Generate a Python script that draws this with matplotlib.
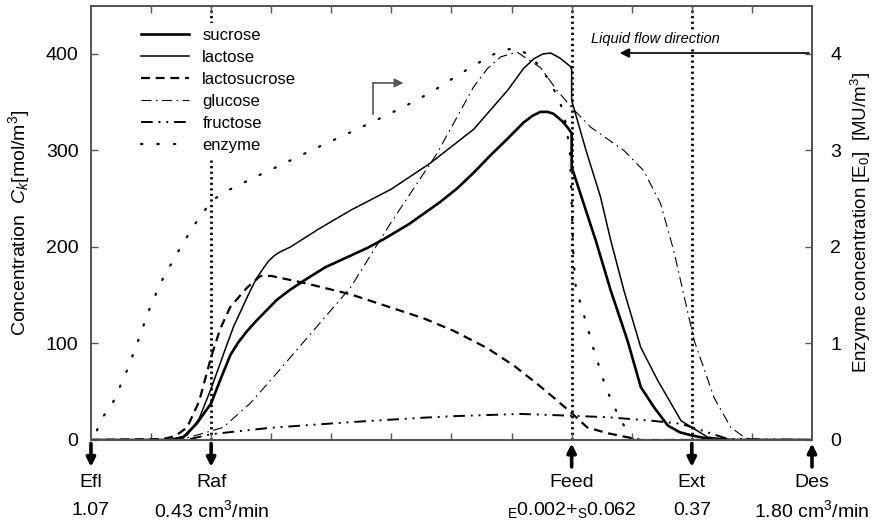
import matplotlib
matplotlib.use("Agg")
import matplotlib.pyplot as plt
from matplotlib.transforms import blended_transform_factory

plt.rcParams['font.family'] = ['Liberation Sans', 'DejaVu Sans']
plt.rcParams['mathtext.fontset'] = 'custom'
plt.rcParams['mathtext.rm'] = 'Liberation Sans'
plt.rcParams['mathtext.it'] = 'Liberation Sans:italic'

# column position (0 = Efl port ... 12 = Des port)
sucrose_x = [0, 1.3, 1.54, 1.76, 2.0, 2.15, 2.32, 2.45, 2.6, 2.76, 3.09, 3.3, 3.54,
             3.9, 4.32, 4.6, 4.87, 5.3, 5.82, 6.1, 6.37, 6.65, 6.93, 7.2, 7.35,
             7.48, 7.6, 7.7, 7.85, 7.93, 8.0, 8.0, 8.2, 8.4, 8.65, 8.93, 9.15,
             9.37, 9.6, 9.8, 9.98, 10.37, 12]
sucrose_y = [0, 0, 3, 17, 38, 62, 88, 101, 113, 124, 145, 155, 165,
             179, 191, 199, 208, 224, 247, 261, 277, 295, 312, 329, 336,
             340, 340, 338, 330, 324, 318, 283, 245, 207, 155, 103, 55,
             34, 15, 8, 5, 0, 0]

lactose_x = [0, 1.35, 1.6, 1.8, 2.01, 2.2, 2.37, 2.6, 2.75, 2.87, 2.95, 3.05, 3.15,
             3.32, 3.8, 4.32, 5.0, 5.65, 6.37, 6.93, 7.2, 7.37, 7.52, 7.65, 7.8,
             7.98, 8.0, 8.0, 8.24, 8.48, 8.65, 8.87, 9.15, 9.43, 9.82, 10.26,
             10.7, 12]
lactose_y = [0, 0, 5, 22, 55, 88, 117, 148, 167, 178, 185, 191, 195,
             200, 219, 238, 260, 287, 322, 362, 385, 395, 400, 401, 396,
             387, 384, 352, 300, 252, 207, 155, 96, 62, 20, 3,
             0, 0]

lactosucrose_x = [0, 1.2, 1.4, 1.6, 1.8, 2.0, 2.15, 2.32, 2.6, 2.82, 3.0, 3.53, 4.32,
                  5.54, 6.04, 6.6, 7.04, 7.43, 7.7, 7.98, 8.26, 8.6, 9.15, 12]
lactosucrose_y = [0, 1, 4, 13, 40, 86, 115, 138, 158, 170, 170, 163, 151,
                  126, 113, 95, 77, 58, 44, 29, 13, 7, 0, 0]

glucose_x = [0, 1.4, 1.65, 2.2, 2.65, 3.09, 3.6, 4.32, 4.98, 5.76, 6.37, 6.6, 6.82,
             7.09, 7.48, 7.76, 8.04, 8.32, 8.87, 9.2, 9.48, 9.7, 10.04, 10.37,
             10.65, 10.87, 11.0, 12]
glucose_y = [0, 0, 3, 13, 38, 69, 106, 158, 224, 297, 366, 385, 397,
             402, 386, 362, 342, 324, 300, 279, 245, 196, 103, 44,
             13, 3, 0, 0]

fructose_x = [0, 1.4, 1.65, 2.0, 2.98, 4.32, 5.5, 6.04, 7.15, 7.87, 8.6, 9.32, 9.82,
              10.26, 10.6, 12]
fructose_y = [0, 0, 1, 6, 12.6, 18.5, 23, 24.7, 27, 25.4, 23.6, 20, 16.8,
              8, 1, 0]

enzyme_x = [0.1, 0.2, 0.36, 0.58, 0.77, 0.95, 1.16, 1.43, 1.71, 2.01, 2.26, 2.75,
            3.23, 3.73, 4.22, 4.7, 5.2, 5.68, 6.13, 6.59, 6.84, 7.09, 7.34, 7.65,
            7.87, 7.97, 8.03, 8.07, 8.15, 8.23, 8.37, 8.54, 8.64, 8.75, 8.87, 9.03, 12]
enzyme_y = [0.1, 0.24, 0.38, 0.69, 1.0, 1.32, 1.63, 1.93, 2.22, 2.48, 2.58, 2.73,
            2.87, 3.02, 3.16, 3.3, 3.45, 3.61, 3.79, 3.96, 4.04, 4.06, 3.97, 3.71,
            3.40, 3.0, 1.9, 1.57, 1.41, 1.24, 0.93, 0.6, 0.44, 0.29, 0.15, 0, 0]

port_x = [0, 2, 8, 10, 12]
port_names = ["Efl", "Raf", "Feed", "Ext", "Des"]
port_flows = ["1.07", "0.43 cm$^3$/min",
              r"$\mathregular{_E}$0.002+$\mathregular{_S}$0.062", "0.37",
              "1.80 cm$^3$/min"]
port_down = [True, True, False, True, False]
switch_x = [2, 8, 10]

gray = "#555555"

fig = plt.figure(figsize=(8.78, 5.21), dpi=100)
ax = fig.add_axes([0.1036, 0.1555, 0.8212, 0.8335])
ax2 = ax.twinx()

l1, = ax.plot(sucrose_x, sucrose_y, color="k", lw=1.9, label="sucrose")
l2, = ax.plot(lactose_x, lactose_y, color="k", lw=1.1, label="lactose")
l3, = ax.plot(lactosucrose_x, lactosucrose_y, color="k", lw=1.6,
              dashes=(4, 2.6), label="lactosucrose")
l4, = ax.plot(glucose_x, glucose_y, color="k", lw=0.8,
              dashes=(9, 4, 1.5, 4), label="glucose")
l5, = ax.plot(fructose_x, fructose_y, color="k", lw=1.4,
              dashes=(6, 3, 1, 3, 1, 3), label="fructose")
l6, = ax2.plot(enzyme_x, enzyme_y, color="k", lw=1.6, dashes=(0.6, 6.8),
               dash_capstyle="round", label="enzyme")

for sx in switch_x:
    ax.axvline(sx, color="k", lw=2.0, dashes=(0.8, 1.2), zorder=1)

ax.set_xlim(0, 12)
ax.set_ylim(0, 450)
ax2.set_ylim(0, 4.5)
ax.set_xticks(range(1, 12))
ax.set_xticklabels([])
ax.set_yticks([0, 100, 200, 300, 400])
ax2.set_yticks([0, 1, 2, 3, 4])
ax.tick_params(axis="x", direction="in", top=True, length=5, color=gray, width=1)
ax.tick_params(axis="y", direction="in", length=5, color=gray, width=1,
               labelsize=14, pad=9)
ax2.tick_params(axis="y", direction="in", length=5, color=gray, width=1,
                labelsize=14, pad=13)
for a in (ax, ax2):
    for s in a.spines.values():
        s.set_color(gray)
        s.set_linewidth(1.3)

ax.set_ylabel(r"Concentration  $C_k$[mol/m$^3$]", fontsize=14, labelpad=10)
ax2.set_ylabel(r"Enzyme concentration [E$_0$]  [MU/m$^3$]", fontsize=13.5,
               labelpad=6)

leg = ax.legend(handles=[l1, l2, l3, l4, l5, l6], loc="upper left",
                bbox_to_anchor=(0.062, 0.96), fontsize=12, frameon=True,
                facecolor="white", edgecolor="none", framealpha=1,
                handlelength=2.9, handletextpad=0.8, labelspacing=0.42,
                borderpad=0.3, borderaxespad=0)
leg.set_zorder(5)
ax.set_zorder(ax2.get_zorder() + 1)
ax.patch.set_visible(False)

# liquid flow direction
ax.text(9.4, 416, "Liquid flow direction", fontsize=10.5, style="italic",
        ha="center", va="center", zorder=6,
        bbox=dict(facecolor="white", edgecolor="none", pad=1))
ax.annotate("", xy=(8.8, 401), xytext=(11.95, 401),
            arrowprops=dict(arrowstyle="-|>", color="k", lw=1.2,
                            mutation_scale=14, shrinkA=0, shrinkB=0))

# bent arrow pointing to the enzyme axis
ax.plot([4.69, 4.69], [338, 370], color=gray, lw=1.2)
ax.annotate("", xy=(5.2, 370), xytext=(4.69, 370),
            arrowprops=dict(arrowstyle="-|>", color=gray, lw=1.2,
                            mutation_scale=13, shrinkA=0, shrinkB=0))

# port arrows and labels
tr = blended_transform_factory(ax.transData, ax.transAxes)
for px, name, flow, down in zip(port_x, port_names, port_flows, port_down):
    top, bot = -0.008, -0.062
    if down:
        start, end = top, bot
    else:
        start, end = bot, top
    ax.annotate("", xy=(px, end), xycoords=tr, xytext=(px, start), textcoords=tr,
                arrowprops=dict(arrowstyle="-|>", color="k", lw=2.6,
                                mutation_scale=13, shrinkA=0, shrinkB=0),
                annotation_clip=False)
    ax.text(px, -0.098, name, transform=tr, fontsize=14, ha="center", va="center")
    ax.text(px, -0.162, flow, transform=tr, fontsize=14, ha="center", va="center")

fig.savefig("out.png", dpi=100)
